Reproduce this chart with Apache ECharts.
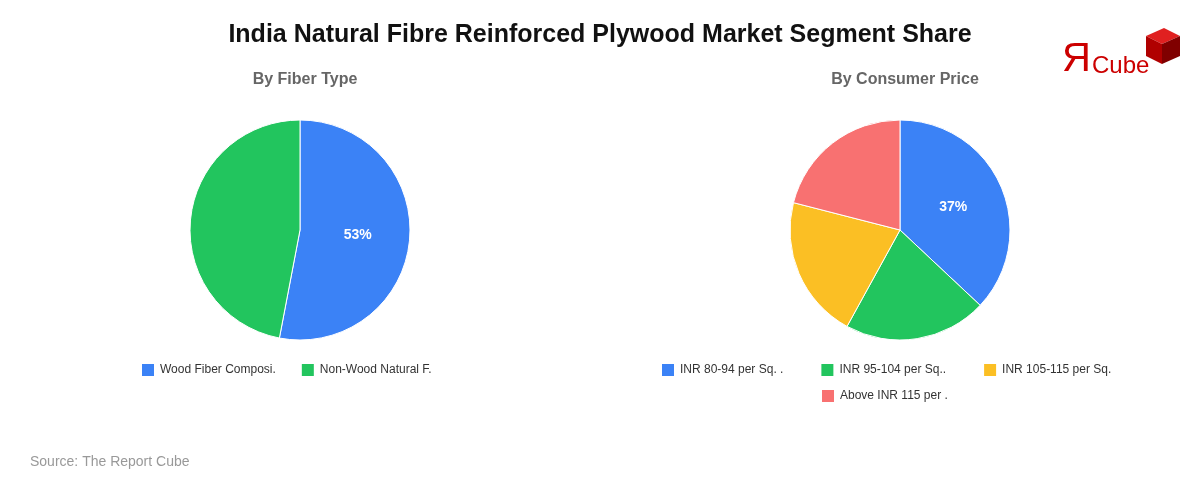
<!DOCTYPE html>
<html>
<head>
<meta charset="utf-8">
<script src="https://cdn.jsdelivr.net/npm/echarts@6/dist/echarts.min.js"></script>
<style>
  html, body { margin: 0; padding: 0; background: #fff; }
  #chart { width: 1200px; height: 480px; }
</style>
</head>
<body>
<div id="chart"></div>
<script>
// 数据
const fiberNames = ['Wood Fiber Composi.', 'Non-Wood Natural F.'];
const fiberValues = [53, 47];
const priceNames = ['INR 80-94 per Sq. .', 'INR 95-104 per Sq..', 'INR 105-115 per Sq.', 'Above INR 115 per .'];
const priceValues = [37, 21, 21, 21];
const colors = ['#3b82f6', '#22c55e', '#fbbf24', '#f87171'];

const chart = echarts.init(document.getElementById('chart'));

// 只给最大的扇区显示标签
function pieData(names, values) {
    const maxV = Math.max(...values);
    return names.map((n, i) => ({
        name: n,
        value: values[i],
        itemStyle: { color: colors[i] },
        label: { show: values[i] === maxV }
    }));
}

function pieSeries(names, values, cx) {
    return {
        type: 'pie',
        center: [cx, 230],
        radius: [0, 110],
        startAngle: 90,
        clockwise: true,
        itemStyle: { borderColor: '#fff', borderWidth: 1 },
        label: {
            position: 'inside',
            formatter: '{c}%',
            color: '#fff',
            fontWeight: 'bold',
            fontSize: 14,
            fontFamily: 'Liberation Sans, Arial, sans-serif'
        },
        labelLine: { show: false },
        emphasis: { disabled: true },
        data: pieData(names, values)
    };
}

const legendBase = {
    icon: 'rect',
    itemWidth: 14,
    itemHeight: 14,
    itemGap: 24,
    textStyle: { fontSize: 12, color: '#333', fontFamily: 'Liberation Sans, Arial, sans-serif' }
};
const font = 'Liberation Sans, Arial, sans-serif';

chart.setOption({
    animation: false,
    title: [
        { text: 'India Natural Fibre Reinforced Plywood Market Segment Share', left: 'center', top: 18,
          textStyle: { fontSize: 25, fontWeight: 'bold', color: '#111', fontFamily: font } },
        { text: 'By Fiber Type', left: 300, textAlign: 'center', top: 67,
          textStyle: { fontSize: 16, fontWeight: 'bold', color: '#666', fontFamily: font } },
        { text: 'By Consumer Price', left: 900, textAlign: 'center', top: 67,
          textStyle: { fontSize: 16, fontWeight: 'bold', color: '#666', fontFamily: font } },
        { text: 'Source: The Report Cube', left: 25, top: 450,
          textStyle: { fontSize: 14, fontWeight: 'normal', color: '#999', fontFamily: font } }
    ],
    legend: [
        { ...legendBase, data: fiberNames, left: 135, top: 357 },
        { ...legendBase, data: priceNames.slice(0, 3), left: 655, top: 357, itemGap: 36 },
        { ...legendBase, data: priceNames.slice(3), left: 815, top: 383 }
    ],
    graphic: [
        { type: 'text', left: 1062, top: 40, style: { text: 'Я', fill: '#c00', font: '40px Liberation Sans, Arial' } },
        { type: 'text', left: 1092, top: 54, style: { text: 'Cube', fill: '#c00', font: '24px Liberation Sans, Arial' } },
        { type: 'polygon', shape: { points: [[1146, 36], [1164, 28], [1180, 36], [1162, 44]] }, style: { fill: '#e02020' } },
        { type: 'polygon', shape: { points: [[1146, 36], [1162, 44], [1162, 64], [1146, 56]] }, style: { fill: '#b00000' } },
        { type: 'polygon', shape: { points: [[1162, 44], [1180, 36], [1180, 56], [1162, 64]] }, style: { fill: '#800000' } }
    ],
    series: [
        pieSeries(fiberNames, fiberValues, 300),
        pieSeries(priceNames, priceValues, 900)
    ]
});
</script>
</body>
</html>
